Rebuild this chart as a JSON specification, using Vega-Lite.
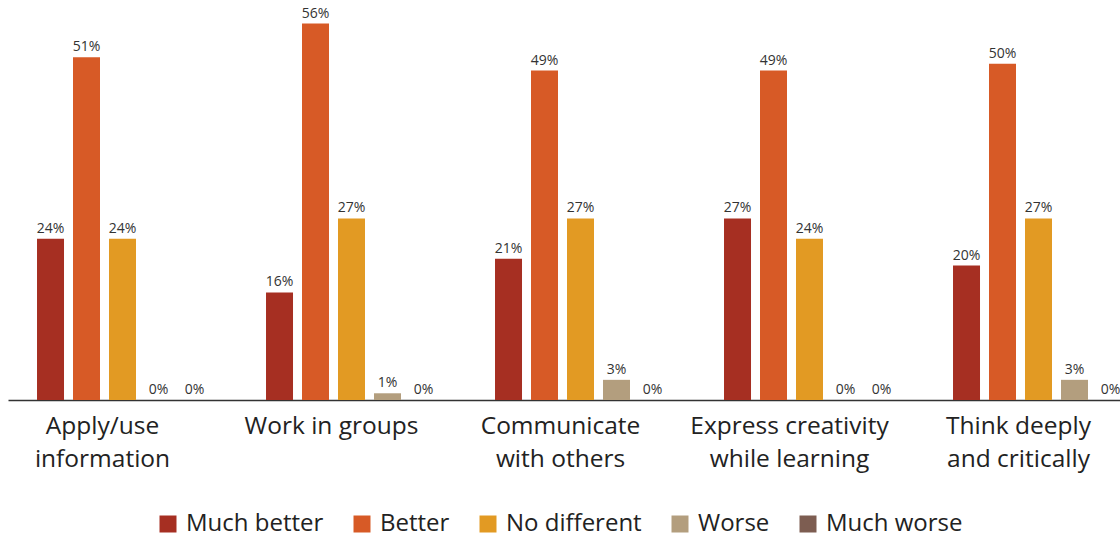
{
  "$schema": "https://vega.github.io/schema/vega-lite/v6.json",
  "width": 1112,
  "height": 400,
  "autosize": {"type": "none"},
  "padding": {"left": 8, "top": 0, "right": 0, "bottom": 139},
  "background": "white",
  "config": {"view": {"stroke": null}, "font": "Open Sans"},
  "data": {
    "values": [
      {"skill": "Apply/use information", "response": "Much better", "pct": 0.24},
      {"skill": "Apply/use information", "response": "Better", "pct": 0.51},
      {"skill": "Apply/use information", "response": "No different", "pct": 0.24},
      {"skill": "Apply/use information", "response": "Worse", "pct": 0},
      {"skill": "Apply/use information", "response": "Much worse", "pct": 0},
      {"skill": "Work in groups", "response": "Much better", "pct": 0.16},
      {"skill": "Work in groups", "response": "Better", "pct": 0.56},
      {"skill": "Work in groups", "response": "No different", "pct": 0.27},
      {"skill": "Work in groups", "response": "Worse", "pct": 0.01},
      {"skill": "Work in groups", "response": "Much worse", "pct": 0},
      {"skill": "Communicate with others", "response": "Much better", "pct": 0.21},
      {"skill": "Communicate with others", "response": "Better", "pct": 0.49},
      {"skill": "Communicate with others", "response": "No different", "pct": 0.27},
      {"skill": "Communicate with others", "response": "Worse", "pct": 0.03},
      {"skill": "Communicate with others", "response": "Much worse", "pct": 0},
      {"skill": "Express creativity while learning", "response": "Much better", "pct": 0.27},
      {"skill": "Express creativity while learning", "response": "Better", "pct": 0.49},
      {"skill": "Express creativity while learning", "response": "No different", "pct": 0.24},
      {"skill": "Express creativity while learning", "response": "Worse", "pct": 0},
      {"skill": "Express creativity while learning", "response": "Much worse", "pct": 0},
      {"skill": "Think deeply and critically", "response": "Much better", "pct": 0.20},
      {"skill": "Think deeply and critically", "response": "Better", "pct": 0.50},
      {"skill": "Think deeply and critically", "response": "No different", "pct": 0.27},
      {"skill": "Think deeply and critically", "response": "Worse", "pct": 0.03},
      {"skill": "Think deeply and critically", "response": "Much worse", "pct": 0}
    ]
  },
  "encoding": {
    "x": {
      "field": "skill",
      "type": "nominal",
      "sort": ["Apply/use information", "Work in groups", "Communicate with others", "Express creativity while learning", "Think deeply and critically"],
      "scale": {"range": [0, 1145], "paddingInner": 0, "paddingOuter": 0},
      "axis": {
        "title": null,
        "labelAngle": 0,
        "labelFontSize": 24.5,
        "labelColor": "#222222",
        "labelPadding": 14,
        "labelLineHeight": 33,
        "labelLimit": 0,
        "labelOffset": -20,
        "labelBaseline": "top",
        "ticks": false,
        "domainColor": "#333333",
        "domainWidth": 1.5,
        "labelExpr": "{'Apply/use information': ['Apply/use', 'information'], 'Work in groups': ['Work in groups'], 'Communicate with others': ['Communicate', 'with others'], 'Express creativity while learning': ['Express creativity', 'while learning'], 'Think deeply and critically': ['Think deeply', 'and critically']}[datum.value]"
      }
    },
    "xOffset": {
      "field": "response",
      "type": "nominal",
      "sort": ["Much better", "Better", "No different", "Worse", "Much worse"],
      "scale": {"paddingInner": 0.25, "paddingOuter": 0.806}
    },
    "y": {
      "field": "pct",
      "type": "quantitative",
      "scale": {"domain": [0, 0.595]},
      "axis": null
    }
  },
  "layer": [
    {
      "mark": {"type": "bar"},
      "encoding": {
        "color": {
          "field": "response",
          "type": "nominal",
          "sort": ["Much better", "Better", "No different", "Worse", "Much worse"],
          "scale": {
            "domain": ["Much better", "Better", "No different", "Worse", "Much worse"],
            "range": ["#A62F22", "#D75A26", "#E29A23", "#B39E7E", "#7D5D51"]
          },
          "legend": {
            "title": null,
            "orient": "none",
            "direction": "horizontal",
            "legendX": 148,
            "legendY": 512,
            "symbolType": "square",
            "symbolSize": 289,
            "symbolStrokeWidth": 0,
            "symbolOpacity": 1,
            "labelFontSize": 24,
            "labelColor": "#222222",
            "labelOffset": 6,
            "columnPadding": 26,
            "labelLimit": 0
          }
        }
      }
    },
    {
      "mark": {"type": "text", "baseline": "bottom", "dy": -3, "fontSize": 14, "color": "#333333"},
      "encoding": {
        "text": {"field": "pct", "type": "quantitative", "format": ".0%"}
      }
    }
  ]
}
